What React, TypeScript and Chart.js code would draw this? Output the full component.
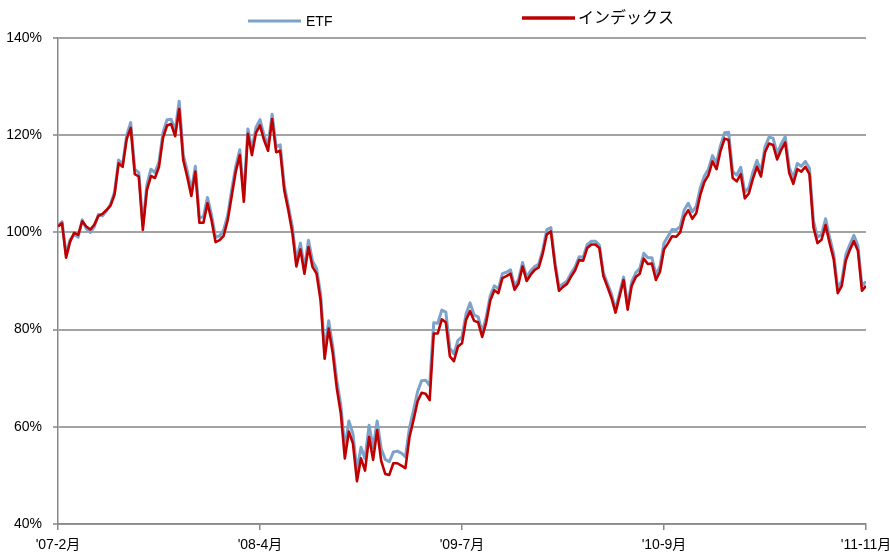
import React, { useEffect, useRef } from "react";
import { Chart, registerables } from "chart.js";

Chart.register(...registerables);

const seriesNames = ["ETF", "インデックス"];
const tickLabels = ["'07-2月", "'08-4月", "'09-7月", "'10-9月", "'11-11月"];
const tickPositions = [0, 50, 100, 150, 200];

const indexValues = [
  101.2, 101.9, 94.8, 98.1, 99.9, 99.5, 102.3, 101.2, 100.6, 101.6,
  103.4, 103.8, 104.6, 105.5, 107.8, 114.2, 113.5, 119.2, 121.5, 112,
  111.5, 100.5, 108.7, 111.6, 111.2, 113.5, 119.5, 122, 122.3, 119.8,
  125.4, 114.9, 111.4, 107.5, 112.5, 102, 102, 106, 102.5, 98,
  98.4, 99.3, 102.5, 107.5, 112.5, 115.9, 106.3, 120.3, 115.9, 120.5,
  122, 119, 116.8, 123.3, 116.5, 116.8, 108.7, 104.6, 100, 93,
  96.5, 91.5, 97, 92.9, 91.5, 86, 74, 80.2, 75.2, 68,
  62.8, 53.5, 59, 56.6, 48.8, 53.5, 51, 57.9, 53.2, 59.3,
  53, 50.3, 50.1, 52.5, 52.5, 52, 51.5, 57.9, 61.4, 65.2,
  67, 66.8, 65.5, 79.2, 79.2, 82.1, 81.5, 74.5, 73.5, 76.5,
  77.2, 82, 83.8, 81.8, 81.5, 78.5, 81.5, 86, 88.1, 87.5,
  90.6, 91, 91.5, 88.2, 89.5, 93, 90, 91.3, 92.3, 92.8,
  95.7, 99.6, 100.2, 93.3, 88, 88.8, 89.4, 90.9, 92.2, 94.3,
  94.2, 96.8, 97.5, 97.5, 96.8, 91, 88.8, 86.5, 83.5, 86.8,
  90.2, 84.1, 89, 90.8, 91.5, 94.6, 93.5, 93.6, 90.2, 91.9,
  96.5, 97.8, 99.2, 99.1, 100, 103.2, 104.6, 102.8, 104, 107.8,
  110.4, 111.8, 114.6, 113, 116.8, 119.3, 119, 111.2, 110.5, 112,
  107, 108, 111, 113.5, 111.5, 116.5, 118.3, 118, 115, 117,
  118.5, 112.2, 110, 113, 112.5, 113.5, 112, 101, 97.8, 98.5,
  101.5, 97.8, 94.5, 87.5, 89, 94.2, 96.4, 98.2, 96.2, 88,
  89,
];

const etfValues = [
  101.4, 102.2, 95.5, 98.5, 99.6, 99, 102.6, 100.8, 100, 101.2,
  103.7, 103.4, 104.4, 105.8, 108.3, 114.9, 114, 120, 122.6, 113,
  112.3, 101.5, 109.8, 113, 112.3, 114.5, 120.6, 123.2, 123.3, 121,
  127, 116, 112.6, 108.6, 113.6, 103, 103.2, 107.2, 103.6, 99,
  99.3, 100.5, 103.5, 108.8, 113.6, 117, 107.4, 121.3, 117, 121.6,
  123.2, 120, 117.8, 124.3, 117.6, 118, 109.8, 105.5, 101.2, 94.2,
  97.8, 92.7, 98.4, 94.1, 92.6, 87.4, 75.5, 81.8, 76.6, 69.6,
  64.5, 55.6, 61.2, 58.6, 51, 55.8, 53.4, 60.3, 55.7, 61.2,
  55.5, 53.3, 52.8, 54.8, 55, 54.6, 53.8, 59.8, 63.4, 67.2,
  69.5, 69.6, 68.5, 81.4, 81.3, 84, 83.6, 76.2, 75, 77.8,
  78.5, 83.2, 85.5, 83, 82.6, 79.5, 82.6, 87, 89, 88.4,
  91.5, 91.8, 92.3, 89, 90.3, 93.8, 90.8, 92.1, 93, 93.5,
  96.4, 100.6, 101, 94, 88.8, 89.4, 90, 91.6, 92.9, 95,
  94.9, 97.5, 98.2, 98.2, 97.4, 91.7, 89.5, 87.3, 84.2, 87.5,
  90.8, 85, 89.8, 91.7, 92.6, 95.7, 94.8, 94.8, 91.3, 93,
  97.8, 99.2, 100.6, 100.5, 101.2, 104.6, 106, 104.2, 105.4, 109.2,
  111.6, 113, 115.8, 114.3, 117.9, 120.5, 120.6, 112.5, 111.8, 113.4,
  108.2, 109.2, 112.4, 114.8, 112.6, 117.6, 119.6, 119.4, 116.2, 118.2,
  119.7, 113.4, 111.2, 114.2, 113.6, 114.6, 113.2, 102.3, 99, 99.6,
  102.8, 99, 95.6, 88.6, 90, 95.4, 97.5, 99.4, 97.3, 89,
  89.9,
];

const ETF_COLOR = "#7da3cb";
const INDEX_COLOR = "#c00000";
const AXIS_COLOR = "#888888";
const GRID_COLOR = "#a3a3a3";
const FONT = "'Liberation Sans Narrow', 'Liberation Sans', 'Noto Sans CJK JP', sans-serif";

const legendPlugin = {
  id: "customLegend",
  afterDraw(chart: any) {
    const ctx = chart.ctx as CanvasRenderingContext2D;
    ctx.save();
    ctx.lineCap = "butt";
    ctx.strokeStyle = ETF_COLOR;
    ctx.lineWidth = 3;
    ctx.beginPath();
    ctx.moveTo(248, 21);
    ctx.lineTo(301, 21);
    ctx.stroke();
    ctx.fillStyle = "#000";
    ctx.textBaseline = "middle";
    ctx.textAlign = "left";
    ctx.font = `14px ${FONT}`;
    ctx.fillText(seriesNames[0], 306, 22);

    ctx.strokeStyle = INDEX_COLOR;
    ctx.lineWidth = 3.5;
    ctx.beginPath();
    ctx.moveTo(522, 18);
    ctx.lineTo(575, 18);
    ctx.stroke();
    ctx.font = `16px 'Noto Sans CJK JP', sans-serif`;
    ctx.fillText(seriesNames[1], 578, 17);
    ctx.restore();
  },
};

export default function App() {
  const canvasRef = useRef<HTMLCanvasElement | null>(null);

  useEffect(() => {
    if (!canvasRef.current) return;
    const chart = new Chart(canvasRef.current, {
      type: "line",
      data: {
        datasets: [
          {
            label: seriesNames[1],
            data: indexValues.map((v, i) => ({ x: i, y: v })),
            borderColor: INDEX_COLOR,
            backgroundColor: INDEX_COLOR,
            borderWidth: 2.6,
            pointRadius: 0,
            tension: 0,
            borderJoinStyle: "round",
            order: 0,
          },
          {
            label: seriesNames[0],
            data: etfValues.map((v, i) => ({ x: i, y: v })),
            borderColor: ETF_COLOR,
            backgroundColor: ETF_COLOR,
            borderWidth: 3,
            pointRadius: 0,
            tension: 0,
            borderJoinStyle: "round",
            order: 1,
          },
        ],
      },
      options: {
        animation: false,
        responsive: true,
        maintainAspectRatio: false,
        layout: { padding: { left: 0, top: 38, right: 23, bottom: 0 } },
        plugins: {
          legend: { display: false },
          tooltip: { enabled: false },
        },
        scales: {
          x: {
            type: "linear",
            min: tickPositions[0],
            max: tickPositions[tickPositions.length - 1],
            afterBuildTicks: (axis: any) => {
              axis.ticks = tickPositions.map((v) => ({ value: v }));
            },
            afterFit: (scale: any) => {
              scale.height = 29;
              scale.paddingLeft = 0;
              scale.paddingRight = 0;
            },
            grid: {
              drawOnChartArea: false,
              drawTicks: true,
              tickLength: 6,
              color: AXIS_COLOR,
              lineWidth: 1.5,
            },
            border: { color: AXIS_COLOR, width: 1.5 },
            ticks: {
              autoSkip: false,
              maxRotation: 0,
              padding: 7,
              color: "#000",
              font: { size: 14, family: FONT },
              callback: (v: any) => {
                const k = tickPositions.indexOf(Number(v));
                return k >= 0 ? tickLabels[k] : "";
              },
            },
          },
          y: {
            min: 40,
            max: 140,
            afterFit: (scale: any) => {
              scale.width = 58;
              scale.paddingTop = 0;
              scale.paddingBottom = 0;
            },
            grid: {
              color: GRID_COLOR,
              lineWidth: 2,
              tickLength: 5,
            },
            border: { color: AXIS_COLOR, width: 1.5 },
            ticks: {
              stepSize: 20,
              padding: 11,
              color: "#000",
              font: { size: 14, family: FONT },
              callback: (v: any) => `${v}%`,
            },
          },
        },
      },
      plugins: [legendPlugin],
    } as any);
    return () => chart.destroy();
  }, []);

  return (
    <div
      style={{
        position: "fixed",
        left: 0,
        top: 0,
        width: 889,
        height: 553,
        background: "#fff",
      }}
    >
      <canvas ref={canvasRef} />
    </div>
  );
}
